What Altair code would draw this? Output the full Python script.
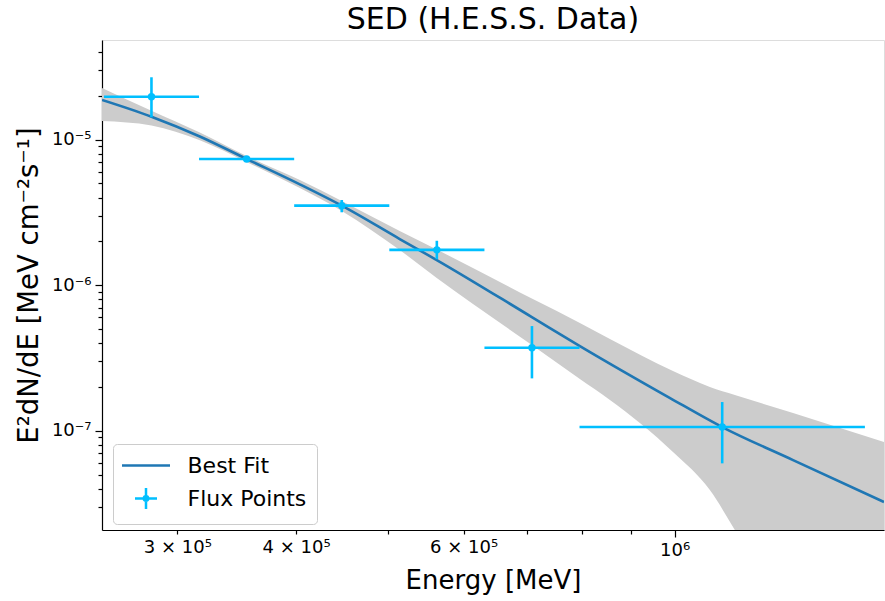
import altair as alt
import pandas as pd

# ---------------- data ----------------
# Flux points
flux_e = [2.818e5, 3.548e5, 4.467e5, 5.623e5, 7.079e5, 1.122e6]
flux_e_lo = [2.512e5, 3.162e5, 3.981e5, 5.012e5, 6.310e5, 7.943e5]
flux_e_hi = [3.162e5, 3.981e5, 5.012e5, 6.310e5, 7.943e5, 1.585e6]
flux = [1.97e-5, 7.37e-6, 3.52e-6, 1.75e-6, 3.72e-7, 1.06e-7]
flux_lo = [1.425e-5, 7.15e-6, 3.17e-6, 1.51e-6, 2.29e-7, 5.97e-8]
flux_hi = [2.684e-5, 7.60e-6, 3.85e-6, 2.02e-6, 5.24e-7, 1.575e-7]

# Best fit model curve
fit_e = [2.5e5, 2.818e5, 3.168e5, 3.548e5, 4.036e5, 4.467e5, 5.14e5,
         5.622e5, 7.077e5, 7.95e5, 9.89e5, 1.122e6, 1.332e6, 1.66e6]
fit_flux = [1.875e-5, 1.439e-5, 1.052e-5, 7.37e-6, 4.93e-6, 3.52e-6, 2.077e-6,
            1.49e-6, 6.04e-7, 3.82e-7, 1.678e-7, 1.06e-7, 6.29e-8, 3.24e-8]

# Uncertainty band
band_e = [2.5e5, 2.818e5, 3.168e5, 3.548e5, 4.036e5, 4.467e5, 5.14e5, 5.622e5,
          7.077e5, 7.95e5, 8.55e5, 9.96e5, 1.089e6, 1.157e6, 1.332e6, 1.66e6]
band_hi = [2.265e-5, 1.58e-5, 1.12e-5, 7.73e-6, 5.28e-6, 3.79e-6, 2.358e-6, 1.759e-6,
           8.09e-7, 5.50e-7, 4.27e-7, 2.57e-7, 2.00e-7, 1.76e-7, 1.323e-7, 8.36e-8]
band_lo = [1.344e-5, 1.252e-5, 9.9e-6, 7.03e-6, 4.66e-6, 3.24e-6, 1.745e-6, 1.121e-6,
           3.88e-7, 2.265e-7, 1.626e-7, 7.14e-8, 3.91e-8, 2.077e-8, 4.27e-9, 4.0e-10]

# Axes
x_domain = [2.5e5, 1.66e6]
y_domain = [2.08e-8, 4.84e-5]
x_tick_values = [3e5, 4e5, 5e5, 6e5, 7e5, 8e5, 9e5, 1e6]
x_tick_labels = ["3 × 10⁵", "4 × 10⁵", "", "6 × 10⁵", "", "", "", "10⁶"]
y_tick_values = [3e-8, 4e-8, 5e-8, 6e-8, 7e-8, 8e-8, 9e-8, 1e-7,
                 2e-7, 3e-7, 4e-7, 5e-7, 6e-7, 7e-7, 8e-7, 9e-7, 1e-6,
                 2e-6, 3e-6, 4e-6, 5e-6, 6e-6, 7e-6, 8e-6, 9e-6, 1e-5,
                 2e-5, 3e-5, 4e-5]
y_major = [1e-7, 1e-6, 1e-5]
y_major_labels = ["10⁻⁷", "10⁻⁶", "10⁻⁵"]

series = ["Best Fit", "Flux Points"]
series_colors = ["#1f77b4", "#00bfff"]

# ---------------- tables ----------------
flux_df = pd.DataFrame({"e": flux_e, "e_lo": flux_e_lo, "e_hi": flux_e_hi,
                        "f": flux, "f_lo": flux_lo, "f_hi": flux_hi})
fit_df = pd.DataFrame({"e": fit_e, "f": fit_flux})
band_df = pd.DataFrame({"e": band_e, "lo": band_lo, "hi": band_hi})
legend_df = pd.DataFrame({"series": series})


def label_expr(vals, labels):
    expr = "''"
    for v, l in zip(vals, labels):
        if l:
            expr = f"abs(datum.value / {v!r} - 1) < 1e-6 ? '{l}' : (" + expr + ")"
    return expr


major_test = "abs(log(datum.value)/LN10 - round(log(datum.value)/LN10)) < 1e-6"
FONT = "DejaVu Sans"

common_axis = dict(
    grid=False, labelFont=FONT, labelFontSize=18, labelColor="black",
    tickColor="black", tickWidth=1.2, domainColor="black", domainWidth=1.2,
    titleFont=FONT, titleFontWeight="normal", titleColor="black",
    labelOverlap=False, labelFlush=False,
    tickSize={"condition": {"test": major_test, "value": 7}, "value": 4},
)

x_axis = alt.Axis(values=x_tick_values, labelExpr=label_expr(x_tick_values, x_tick_labels),
                  title="Energy [MeV]", titleFontSize=26, labelPadding=4, titlePadding=8,
                  **common_axis)
y_axis = alt.Axis(values=y_tick_values, labelExpr=label_expr(y_major, y_major_labels),
                  title="E²dN/dE [MeV cm⁻²s⁻¹]", titleFontSize=27.5, labelPadding=4,
                  titlePadding=8, **common_axis)

xs = alt.Scale(type="log", domain=x_domain, nice=False)
ys = alt.Scale(type="log", domain=y_domain, nice=False)

band = alt.Chart(band_df).mark_area(color="#cccccc", clip=True, interpolate="monotone").encode(
    x=alt.X("e:Q", scale=xs, axis=x_axis),
    y=alt.Y("lo:Q", scale=ys, axis=y_axis),
    y2="hi:Q",
)

line = alt.Chart(fit_df).mark_line(color="#1f77b4", strokeWidth=2.6, clip=True,
                                   interpolate="monotone").encode(
    x=alt.X("e:Q", scale=xs), y=alt.Y("f:Q", scale=ys))

xerr = alt.Chart(flux_df).mark_rule(color="#00bfff", strokeWidth=2.6, clip=True).encode(
    x=alt.X("e_lo:Q", scale=xs), x2="e_hi:Q", y=alt.Y("f:Q", scale=ys))

yerr = alt.Chart(flux_df).mark_rule(color="#00bfff", strokeWidth=2.6, clip=True).encode(
    x=alt.X("e:Q", scale=xs), y=alt.Y("f_lo:Q", scale=ys), y2="f_hi:Q")

pts = alt.Chart(flux_df).mark_circle(color="#00bfff", size=55, opacity=1).encode(
    x=alt.X("e:Q", scale=xs), y=alt.Y("f:Q", scale=ys))

flux_symbol = ("M-1.1,0H1.1M0,-1.05V1.05"
               "M0.22,0A0.22,0.22 0 1,1 -0.22,0A0.22,0.22 0 1,1 0.22,0"
               "M0.08,0A0.08,0.08 0 1,1 -0.08,0A0.08,0.08 0 1,1 0.08,0")
line_symbol = "M-2.4,0H2.4"

legend = alt.Legend(title=None, orient="none", legendX=11, legendY=404,
                    fillColor="white", strokeColor="#cccccc", cornerRadius=4, padding=10,
                    labelFont=FONT, labelFontSize=22, labelColor="black",
                    symbolSize=400, symbolStrokeWidth=2.5, symbolOffset=11.5,
                    labelOffset=30, rowPadding=6, symbolOpacity=1)

leg = alt.Chart(legend_df).transform_filter("false").mark_point(
    filled=False, opacity=1, strokeWidth=2.5, size=400).encode(
    color=alt.Color("series:N", scale=alt.Scale(domain=series, range=series_colors), legend=legend),
    shape=alt.Shape("series:N", scale=alt.Scale(domain=series, range=[line_symbol, flux_symbol]),
                    legend=legend),
)

chart = alt.layer(band, line, xerr, yerr, pts, leg).properties(
    width=782, height=490,
    title=alt.TitleParams("SED (H.E.S.S. Data)", font=FONT, fontSize=30, fontWeight="normal",
                          color="black", anchor="middle", offset=5),
    autosize=alt.AutoSizeParams(type="none"),
    padding={"left": 102, "top": 40, "right": 1, "bottom": 71},
).configure_view(stroke="black", strokeWidth=1.2).configure(background="white")

chart.save("out.html", embed_options={"renderer": "svg", "actions": False})
